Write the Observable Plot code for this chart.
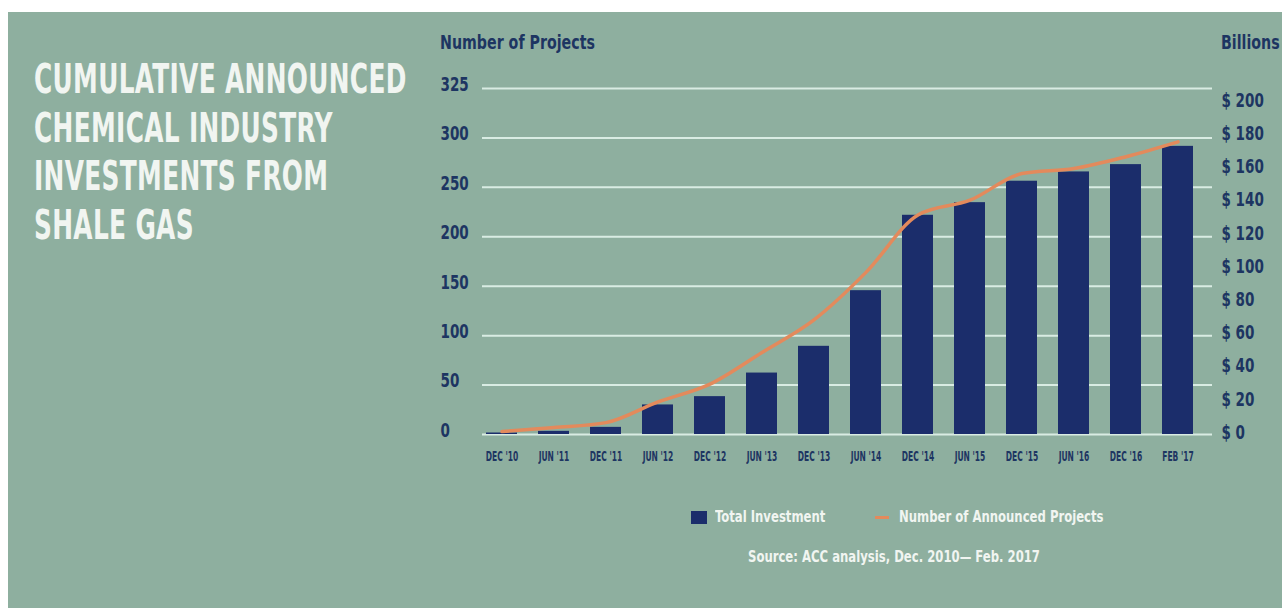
<!DOCTYPE html>
<html>
<head>
<meta charset="utf-8">
<script src="https://cdn.jsdelivr.net/npm/d3@7"></script>
<script src="https://cdn.jsdelivr.net/npm/@observablehq/plot@0.6"></script>
<style>
  html, body { margin: 0; padding: 0; background: #ffffff; }
  body { width: 1282px; height: 608px; position: relative; overflow: hidden;
         font-family: "Liberation Sans Narrow", "DejaVu Sans Condensed", "Roboto", sans-serif; }
  #panel { position: absolute; left: 8px; top: 12px; width: 1274px; height: 596px; background: #8eaf9f; }
  .abs { position: absolute; white-space: nowrap; transform-origin: 0 50%; }
  #title { left: 34px; top: 55px; color: #f1f5f1; font-weight: bold; font-size: 40px; line-height: 48.7px;
           transform-origin: 0 0; transform: scaleX(0.69); letter-spacing: 0.5px; }
  .axlab { color: #1d3562; font-weight: bold; font-size: 20px; transform: scaleX(0.79); }
  #chart { position: absolute; left: 400px; top: 0px; }
  .leg { color: #f1f5f1; font-size: 16px; font-weight: bold; transform: scaleX(0.81); }
</style>
</head>
<body>
<div id="panel"></div>
<div id="title" class="abs">CUMULATIVE ANNOUNCED<br>CHEMICAL INDUSTRY<br>INVESTMENTS FROM<br>SHALE GAS</div>
<div class="abs axlab" style="left:440px; top:30px;">Number of Projects</div>
<div class="abs axlab" style="left:1221px; top:30px;">Billions</div>
<div id="chart"></div>
<div class="abs" style="left:691px; top:511px; width:16px; height:13px; background:#1b2d6b;"></div>
<div class="abs leg" style="left:715px; top:507px;">Total Investment</div>
<div class="abs" style="left:875px; top:516px; width:14px; height:3px; background:#e38a5c;"></div>
<div class="abs leg" style="left:899px; top:507px;">Number of Announced Projects</div>
<div class="abs leg" style="left:748px; top:547px;">Source: ACC analysis, Dec. 2010— Feb. 2017</div>
<script>
// ---- data ----
const categories = ["DEC '10","JUN '11","DEC '11","JUN '12","DEC '12","JUN '13","DEC '13","JUN '14","DEC '14","JUN '15","DEC '15","JUN '16","DEC '16","FEB '17"];
const investment = [0.9, 1.9, 4.3, 17.8, 22.8, 37.0, 53.1, 86.6, 132.0, 139.6, 152.5, 158.1, 162.5, 173.5]; // $ billions
const projects = [3, 7, 12, 33, 51, 83, 116, 164, 222, 237, 264, 269, 281, 296];
const leftTicks = [0, 50, 100, 150, 200, 250, 300, 350];
const leftTickLabels = ["0", "50", "100", "150", "200", "250", "300", "325"];
const rightTicks = [0, 20, 40, 60, 80, 100, 120, 140, 160, 180, 200];

// projects-per-billion ratio linking the two axes
const k = 1.68;

const data = categories.map((c, i) => ({cat: c, inv: investment[i], proj: projects[i]}));

const navy = "#1b2d6b";
const orange = "#e38a5c";
const grid = "#d9ece3";
const axisColor = "#1d3562";

const chart = Plot.plot({
  width: 882,
  height: 480,
  marginLeft: 82,
  marginRight: 70,
  marginTop: 88,
  marginBottom: 46,
  style: {background: "transparent", fontFamily: "'Liberation Sans Narrow', 'DejaVu Sans Condensed', sans-serif", fontWeight: "bold"},
  x: {domain: categories, range: [71.2, 807.3], paddingInner: 0.41, paddingOuter: 0.205, align: 0.5},
  y: {domain: [0, 350]},
  marks: [
    Plot.ruleY(leftTicks, {stroke: grid, strokeWidth: 2}),
    Plot.barY(data, {x: "cat", y: d => d.inv * k, fill: navy}),
    Plot.line(data, {x: "cat", y: "proj", stroke: orange, strokeWidth: 3.5, curve: "monotone-x"}),
    Plot.axisX({tickSize: 0, tickPadding: 17, fontSize: 14, color: axisColor, label: null}),
    Plot.axisY(leftTicks, {anchor: "left", tickSize: 0, tickPadding: 42, textAnchor: "start", dy: -4,
      fontSize: 20, color: axisColor, label: null,
      tickFormat: d => leftTickLabels[leftTicks.indexOf(d)]}),
    Plot.axisY(rightTicks.map(v => v * k), {anchor: "right", tickSize: 0, tickPadding: 9, dy: -2,
      fontSize: 20, color: axisColor, label: null,
      tickFormat: d => "$ " + Math.round(d / k)})
  ]
});
document.getElementById("chart").appendChild(chart);

// condense axis texts (the original uses a condensed typeface)
function condense(sel, factor) {
  chart.querySelectorAll(sel).forEach(t => {
    const w = t.getComputedTextLength();
    if (w > 0) {
      t.setAttribute("textLength", (w * factor).toFixed(1));
      t.setAttribute("lengthAdjust", "spacingAndGlyphs");
    }
  });
}
condense('g[aria-label="y-axis tick label"] text', 0.75);
condense('g[aria-label="x-axis tick label"] text', 0.6);
</script>
</body>
</html>
